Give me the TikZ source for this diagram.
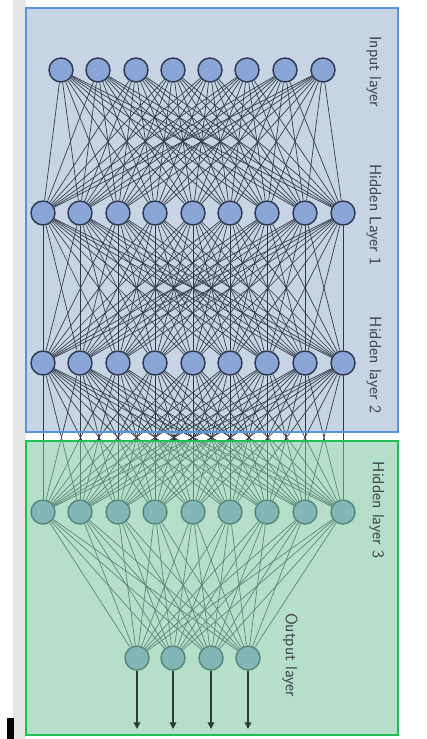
\documentclass[tikz,border=0pt]{standalone}
\usetikzlibrary{arrows.meta}
\pgfdeclarelayer{back}
\pgfdeclarelayer{edges}
\pgfdeclarelayer{front}
\pgfsetlayers{back,edges,main,front}
\definecolor{bluefill}{HTML}{C6D4E4}
\definecolor{blueborder}{HTML}{5B93E0}
\definecolor{greenfill}{HTML}{7BC59D}
\definecolor{greenborder}{HTML}{1FBF55}
\definecolor{nodefill}{HTML}{8AA6D6}
\definecolor{nodeborder}{HTML}{2E3A50}
\definecolor{edgecol}{HTML}{2F3846}
\definecolor{shadowcol}{HTML}{E6E6E6}
\definecolor{labelcol}{HTML}{3A3F48}
\definecolor{arrowcol}{HTML}{2C3E34}
\begin{document}
\begin{tikzpicture}[x=0.75pt,y=-0.75pt,
  neuron/.style={circle, draw=nodeborder, line width=1.1pt, fill=nodefill, minimum size=18pt, inner sep=0pt},
  conn/.style={draw=edgecol, line width=0.5pt},
  outarrow/.style={draw=arrowcol, line width=1.1pt, -{Triangle[length=5pt,width=5pt]}},
  lbl/.style={rotate=-90, font=\sffamily\fontsize{12.3}{13}\selectfont, text=labelcol, inner sep=0pt}]
\useasboundingbox (0,0) rectangle (427,739);
\begin{pgfonlayer}{back}
  \fill[white] (0,0) rectangle (427,739);
  \fill[shadowcol] (13,0) rectangle (26,739);
  \fill[bluefill] (26,8) rectangle (398,432);
  \fill[black] (7,718) rectangle (14,739);
\end{pgfonlayer}
% neurons
\foreach \i/\x in {1/61,2/98,3/136,4/173,5/210,6/247,7/285,8/323}
  \node[neuron] (i\i) at (\x,70) {};
\foreach \i/\x in {1/43,2/80,3/118,4/155,5/193,6/230,7/267,8/305,9/343} {
  \node[neuron] (a\i) at (\x,213) {};
  \node[neuron] (b\i) at (\x,363) {};
  \node[neuron] (c\i) at (\x,512) {};
}
\foreach \i/\x in {1/137,2/173,3/211,4/248} {
  \node[neuron] (o\i) at (\x,658) {};
  \coordinate (e\i) at (\x,729);
}
% connections
\begin{pgfonlayer}{edges}
  \foreach \i in {1,...,8} \foreach \j in {1,...,9} \draw[conn] (i\i) -- (a\j);
  \foreach \i in {1,...,9} \foreach \j in {1,...,9} \draw[conn] (a\i) -- (b\j);
  \foreach \i in {1,...,9} \foreach \j in {1,...,9} \draw[conn] (b\i) -- (c\j);
  \foreach \i in {1,...,9} \foreach \j in {1,...,4} \draw[conn] (c\i) -- (o\j);
\end{pgfonlayer}
% frames and labels
\begin{pgfonlayer}{front}
  \fill[greenfill, opacity=0.55] (26,441) rectangle (398,735);
  \foreach \i in {1,...,4} \draw[outarrow] (o\i) -- (e\i);
  \draw[blueborder, line width=1.8pt] (26,8) rectangle (398,432);
  \draw[greenborder, line width=1.8pt] (26,441) rectangle (398,735);
  \node[lbl] (l0) at (374,72) {Input layer};
  \node[lbl] (l1) at (374,215) {Hidden Layer 1};
  \node[lbl] (l2) at (374,365) {Hidden layer 2};
  \node[lbl] (l3) at (377,510) {Hidden layer 3};
  \node[lbl] (l4) at (290,655) {Output layer};
\end{pgfonlayer}
\end{tikzpicture}
\end{document}
